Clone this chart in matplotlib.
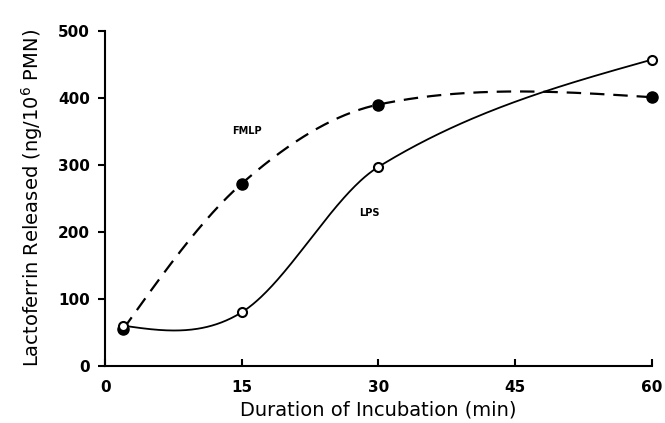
import numpy as np
import matplotlib
matplotlib.use("Agg")
import matplotlib.pyplot as plt

# data
time_min = [2, 15, 30, 60]
fmlp = [55, 272, 390, 401]
lps = [60, 80, 297, 457]
x_ticks = [0, 15, 30, 45, 60]
y_ticks = [0, 100, 200, 300, 400, 500]


def smooth_curve(x, y, n=100):
    # cubic hermite through the points: central slopes inside,
    # "natural" style slopes at both ends
    x = np.asarray(x, float)
    y = np.asarray(y, float)
    m = np.zeros(len(x))
    m[1:-1] = (y[2:] - y[:-2]) / (x[2:] - x[:-2])
    m[0] = (3 * (y[1] - y[0]) / (x[1] - x[0]) - m[1]) / 2
    m[-1] = (3 * (y[-1] - y[-2]) / (x[-1] - x[-2]) - m[-2]) / 2
    xs, ys = [], []
    for i in range(len(x) - 1):
        h = x[i + 1] - x[i]
        t = np.linspace(0, 1, n)
        h00 = 2 * t**3 - 3 * t**2 + 1
        h10 = t**3 - 2 * t**2 + t
        h01 = -2 * t**3 + 3 * t**2
        h11 = t**3 - t**2
        xs.append(x[i] + t * h)
        ys.append(h00 * y[i] + h10 * h * m[i] + h01 * y[i + 1] + h11 * h * m[i + 1])
    return np.concatenate(xs), np.concatenate(ys)


fig = plt.figure(figsize=(6.65, 4.23), dpi=100)
ax = fig.add_axes([0.158, 0.135, 0.822, 0.792])

fx, fy = smooth_curve(time_min, fmlp)
lx, ly = smooth_curve(time_min, lps)
ax.plot(fx, fy, color="black", lw=1.6, dashes=(6.5, 4), clip_on=False)
ax.plot(lx, ly, color="black", lw=1.3, clip_on=False)
ax.plot(time_min, fmlp, "o", color="black", ms=8, clip_on=False, zorder=3)
ax.plot(time_min, lps, "o", mfc="white", mec="black", mew=1.5, ms=6.5,
        clip_on=False, zorder=3)

ax.text(15.6, 351, "FMLP", fontsize=7, fontweight="bold", ha="center", va="center")
ax.text(29.0, 228, "LPS", fontsize=7, fontweight="bold", ha="center", va="center")

ax.set_xlim(0, 60)
ax.set_ylim(0, 500)
ax.set_xticks(x_ticks)
ax.set_yticks(y_ticks)
ax.spines["top"].set_visible(False)
ax.spines["right"].set_visible(False)
ax.spines["left"].set_linewidth(1.5)
ax.spines["bottom"].set_linewidth(1.5)
ax.tick_params(axis="x", direction="in", length=5, width=1.5, pad=10)
ax.tick_params(axis="y", direction="out", length=5, width=1.5, pad=6)
for lab in ax.get_xticklabels() + ax.get_yticklabels():
    lab.set_fontweight("bold")
    lab.set_fontsize(11)

ax.set_xlabel("Duration of Incubation (min)", fontsize=14, labelpad=4)
ax.set_ylabel("Lactoferrin Released (ng/10$^6$ PMN)", fontsize=14, labelpad=9)

fig.savefig("out.png", dpi=100)
